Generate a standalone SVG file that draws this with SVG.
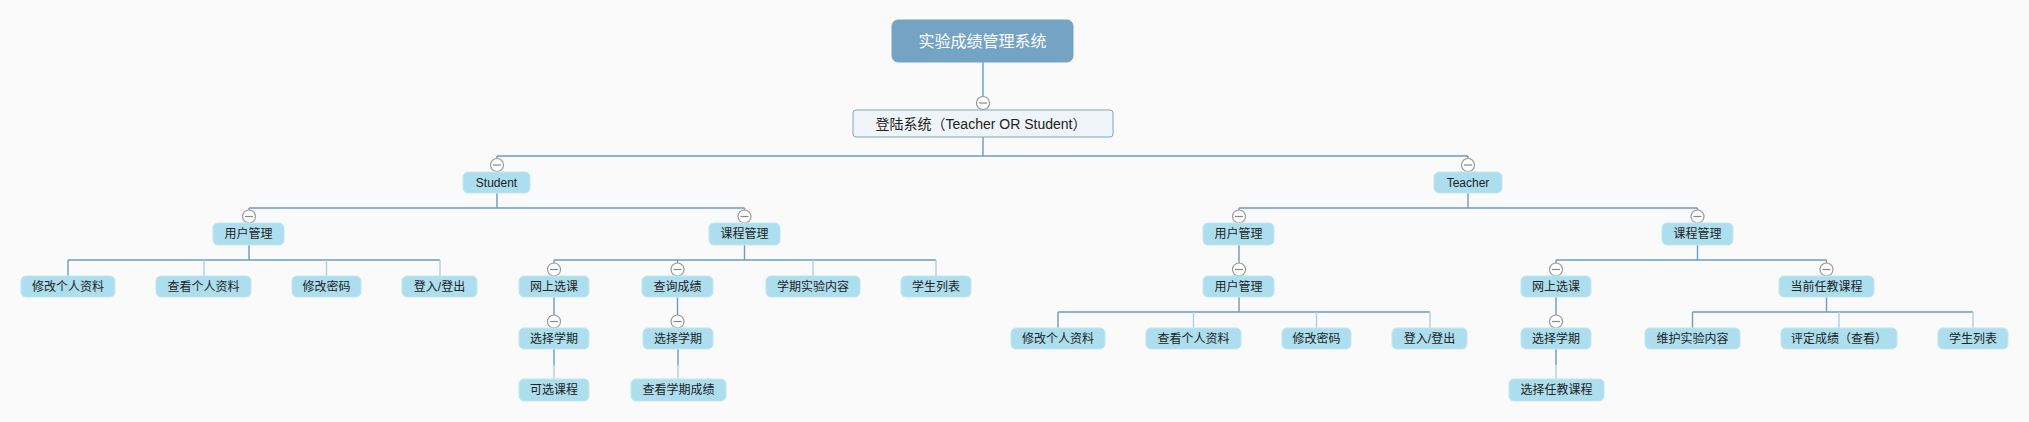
<svg xmlns="http://www.w3.org/2000/svg" width="2029" height="422" viewBox="0 0 2029 422">
<style>
.bg{fill:#fafafa}
.n rect{fill:#addeee;stroke:#c3e6f2;stroke-width:1}
.n text{font-family:"Liberation Sans","Noto Sans CJK SC",sans-serif;font-size:12px;fill:#222;text-anchor:middle;dominant-baseline:central}
#root rect{fill:#74a3c4;stroke:#74a3c4}
#root text{font-size:16px;fill:#fff}
#login rect{fill:#eef4f8;stroke:#7fa7c6}
#login text{font-size:14px}
.c{stroke:#6a9cc4;stroke-width:1.4;fill:none}
.l{stroke:#b3cee0;stroke-width:1.4;fill:none}
.t circle{fill:#fff;stroke:#999;stroke-width:1.2}
.t line{stroke:#888;stroke-width:1.2}
</style>
<rect class="bg" x="0" y="0" width="2029" height="422"/>
<g id="connectors">
<path class="c" d="M983 62V96.5M983 137V156M497 156H1468M497 156V158.5M1468 156V158.5"/>
<path class="c" d="M497 193V208M249 208H744.5M249 208V210M744.5 208V210"/>
<path class="c" d="M249 245V260M68 260H440M68 260V276"/>
<path class="l" d="M204 260V276M326.5 260V276M440 260V276"/>
<path class="c" d="M744.5 245V260M554 260H936M554 260V263M677.5 260V263"/>
<path class="l" d="M813 260V276M936 260V276"/>
<path class="c" d="M554 297V315M554 349V365M677.5 297V315M678 349V365"/>
<path class="l" d="M554 365V379M678 365V379"/>
<path class="c" d="M1468 193V208M1239 208H1697.5M1239 208V210M1697.5 208V210"/>
<path class="c" d="M1239 245V263M1239 297V312M1058 312H1430M1058 312V328"/>
<path class="l" d="M1193.5 312V328M1316.5 312V328M1430 312V328"/>
<path class="c" d="M1697.5 245V260M1556 260H1826.5M1556 260V263M1826.5 260V263"/>
<path class="c" d="M1556 297V315M1556 349V365"/>
<path class="l" d="M1556 365V379"/>
<path class="c" d="M1826.5 297V312M1692.5 312H1973M1692.5 312V328"/>
<path class="l" d="M1839 312V328M1973 312V328"/>
</g>
<g id="toggles" class="t">
<circle cx="983" cy="103" r="6.5"/><line x1="979" y1="103" x2="987" y2="103"/>
<circle cx="497" cy="165" r="6.5"/><line x1="493" y1="165" x2="501" y2="165"/>
<circle cx="1468" cy="165" r="6.5"/><line x1="1464" y1="165" x2="1472" y2="165"/>
<circle cx="249" cy="216.5" r="6.5"/><line x1="245" y1="216.5" x2="253" y2="216.5"/>
<circle cx="744.5" cy="216.5" r="6.5"/><line x1="740.5" y1="216.5" x2="748.5" y2="216.5"/>
<circle cx="554" cy="269.5" r="6.5"/><line x1="550" y1="269.5" x2="558" y2="269.5"/>
<circle cx="677.5" cy="269.5" r="6.5"/><line x1="673.5" y1="269.5" x2="681.5" y2="269.5"/>
<circle cx="554" cy="321.5" r="6.5"/><line x1="550" y1="321.5" x2="558" y2="321.5"/>
<circle cx="677.5" cy="321.5" r="6.5"/><line x1="673.5" y1="321.5" x2="681.5" y2="321.5"/>
<circle cx="1239" cy="216.5" r="6.5"/><line x1="1235" y1="216.5" x2="1243" y2="216.5"/>
<circle cx="1697.5" cy="216.5" r="6.5"/><line x1="1693.5" y1="216.5" x2="1701.5" y2="216.5"/>
<circle cx="1239" cy="269.5" r="6.5"/><line x1="1235" y1="269.5" x2="1243" y2="269.5"/>
<circle cx="1556" cy="269.5" r="6.5"/><line x1="1552" y1="269.5" x2="1560" y2="269.5"/>
<circle cx="1826.5" cy="269.5" r="6.5"/><line x1="1822.5" y1="269.5" x2="1830.5" y2="269.5"/>
<circle cx="1556" cy="321.5" r="6.5"/><line x1="1552" y1="321.5" x2="1560" y2="321.5"/>
</g>
<g id="root" class="n"><rect x="892" y="20" width="181" height="42" rx="6"/><text x="982.5" y="41">实验成绩管理系统</text></g>
<g id="login" class="n"><rect x="853" y="110" width="260" height="27" rx="3"/><text x="981" y="123.5">登陆系统（Teacher OR Student）</text></g>
<g id="student" class="n"><rect x="463" y="172" width="67" height="21" rx="5"/><text x="496.5" y="182.5">Student</text></g>
<g id="teacher" class="n"><rect x="1434" y="172" width="68" height="21" rx="5"/><text x="1468" y="182.5">Teacher</text></g>
<g id="s-user" class="n"><rect x="213" y="223" width="71" height="22" rx="5"/><text x="248.5" y="234">用户管理</text></g>
<g id="s-course" class="n"><rect x="709" y="223" width="71" height="22" rx="5"/><text x="744.5" y="234">课程管理</text></g>
<g id="s-edit-info" class="n"><rect x="21" y="276" width="94" height="21" rx="5"/><text x="68" y="286.5">修改个人资料</text></g>
<g id="s-view-info" class="n"><rect x="156" y="276" width="95" height="21" rx="5"/><text x="203.5" y="286.5">查看个人资料</text></g>
<g id="s-pwd" class="n"><rect x="292" y="276" width="69" height="21" rx="5"/><text x="326.5" y="286.5">修改密码</text></g>
<g id="s-login" class="n"><rect x="402" y="276" width="75" height="21" rx="5"/><text x="439.5" y="286.5">登入/登出</text></g>
<g id="s-select" class="n"><rect x="519" y="276" width="70" height="21" rx="5"/><text x="554" y="286.5">网上选课</text></g>
<g id="s-query" class="n"><rect x="642" y="276" width="71" height="21" rx="5"/><text x="677.5" y="286.5">查询成绩</text></g>
<g id="s-content" class="n"><rect x="766" y="276" width="94" height="21" rx="5"/><text x="813" y="286.5">学期实验内容</text></g>
<g id="s-list" class="n"><rect x="901" y="276" width="70" height="21" rx="5"/><text x="936" y="286.5">学生列表</text></g>
<g id="s-term1" class="n"><rect x="519" y="328" width="70" height="21" rx="5"/><text x="554" y="338.5">选择学期</text></g>
<g id="s-avail" class="n"><rect x="519" y="379" width="70" height="22" rx="5"/><text x="554" y="390">可选课程</text></g>
<g id="s-term2" class="n"><rect x="643" y="328" width="70" height="21" rx="5"/><text x="678" y="338.5">选择学期</text></g>
<g id="s-grades" class="n"><rect x="631" y="379" width="95" height="22" rx="5"/><text x="678.5" y="390">查看学期成绩</text></g>
<g id="t-user" class="n"><rect x="1203" y="223" width="71" height="22" rx="5"/><text x="1238.5" y="234">用户管理</text></g>
<g id="t-user2" class="n"><rect x="1203" y="276" width="71" height="21" rx="5"/><text x="1238.5" y="286.5">用户管理</text></g>
<g id="t-edit-info" class="n"><rect x="1011" y="328" width="94" height="21" rx="5"/><text x="1058" y="338.5">修改个人资料</text></g>
<g id="t-view-info" class="n"><rect x="1146" y="328" width="95" height="21" rx="5"/><text x="1193.5" y="338.5">查看个人资料</text></g>
<g id="t-pwd" class="n"><rect x="1282" y="328" width="69" height="21" rx="5"/><text x="1316.5" y="338.5">修改密码</text></g>
<g id="t-login" class="n"><rect x="1392" y="328" width="75" height="21" rx="5"/><text x="1429.5" y="338.5">登入/登出</text></g>
<g id="t-course" class="n"><rect x="1662" y="223" width="71" height="22" rx="5"/><text x="1697.5" y="234">课程管理</text></g>
<g id="t-select" class="n"><rect x="1521" y="276" width="70" height="21" rx="5"/><text x="1556" y="286.5">网上选课</text></g>
<g id="t-current" class="n"><rect x="1779" y="276" width="95" height="21" rx="5"/><text x="1826.5" y="286.5">当前任教课程</text></g>
<g id="t-term" class="n"><rect x="1521" y="328" width="70" height="21" rx="5"/><text x="1556" y="338.5">选择学期</text></g>
<g id="t-choose" class="n"><rect x="1509" y="379" width="95" height="22" rx="5"/><text x="1556.5" y="390">选择任教课程</text></g>
<g id="t-maintain" class="n"><rect x="1645" y="328" width="95" height="21" rx="5"/><text x="1692.5" y="338.5">维护实验内容</text></g>
<g id="t-grade" class="n"><rect x="1781" y="328" width="116" height="21" rx="5"/><text x="1839" y="338.5">评定成绩（查看）</text></g>
<g id="t-list" class="n"><rect x="1938" y="328" width="70" height="21" rx="5"/><text x="1973" y="338.5">学生列表</text></g>
</svg>
